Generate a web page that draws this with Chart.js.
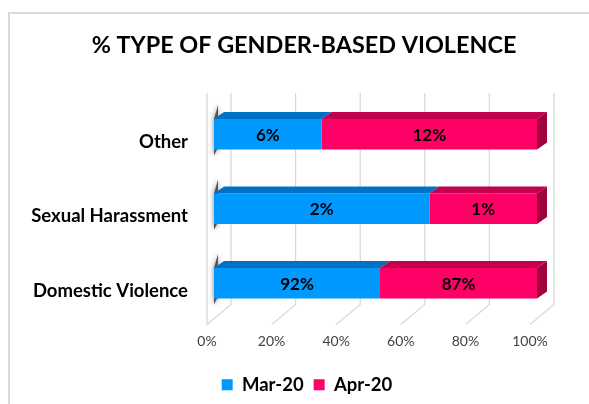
<!DOCTYPE html>
<html>
<head>
<meta charset="utf-8">
<script src="https://cdn.jsdelivr.net/npm/chart.js@4.4.1/dist/chart.umd.min.js"></script>
<style>
  body { margin: 0; background: #fff; }
  #frame {
    position: absolute; left: 8px; top: 12px; width: 590px; height: 400px;
    border-left: 2px solid #d9d9d9; border-top: 2px solid #d9d9d9;
    pointer-events: none;
  }
  #chart { position: absolute; left: 0; top: 0; }
</style>
</head>
<body>
<canvas id="chart" width="589" height="404"></canvas>
<div id="frame"></div>
<script>
const categories = ["Other", "Sexual Harassment", "Domestic Violence"];
const marValues = [6, 2, 92];
const aprValues = [12, 1, 87];
const seriesLabels = ["Mar-20", "Apr-20"];
const tickValues = [0, 20, 40, 60, 80, 100];

const FONT = "Lato";
const DX = 10; // bar depth
const DY = 7;

// each bar is shown as its share of the row (100% stacked)
const marShare = marValues.map((v, i) => (v / (v + aprValues[i])) * 100);
const aprShare = aprValues.map((v, i) => (v / (marValues[i] + v)) * 100);
const rawValues = [marValues, aprValues];

const frontColors = ["#0099ff", "#ff0066"];
const topColors = ["#0072c4", "#c2004e"];
const sideColor = "#a0003e";

const grid3d = {
  id: "grid3d",
  afterLayout(chart) {
    // title and legend sit a bit right of the canvas centre
    chart.titleBlock.left = 19;
    chart.titleBlock.right = 589;
    chart.legend.left = 25;
    chart.legend.right = 589;
  },
  beforeDatasetsDraw(chart) {
    const { ctx, chartArea, scales } = chart;
    const x = scales.x;
    const backBottom = chartArea.bottom - 16;
    const frontBottom = chartArea.bottom + 4;
    const top = chartArea.top - 4;
    ctx.save();
    ctx.strokeStyle = "#d9d9d9";
    ctx.lineWidth = 1.3;
    for (const v of tickValues) {
      const px = x.getPixelForValue(v);
      ctx.beginPath();
      ctx.moveTo(px + 17, top);
      ctx.lineTo(px + 17, backBottom);
      ctx.lineTo(px - 7, frontBottom);
      ctx.stroke();
    }
    // left wall edge
    const x0 = x.getPixelForValue(0) - 7;
    ctx.beginPath();
    ctx.moveTo(x0, top);
    ctx.lineTo(x0, frontBottom);
    ctx.stroke();

    // shadow on the left of each bar
    const bars = chart.getDatasetMeta(0).data;
    for (const bar of bars) {
      const t = bar.y - bar.height / 2;
      const b = bar.y + bar.height / 2;
      ctx.save();
      ctx.shadowColor = "rgba(0,0,0,0.55)";
      ctx.shadowBlur = 5;
      ctx.fillStyle = "#555";
      ctx.beginPath();
      ctx.moveTo(bar.base, t);
      ctx.lineTo(bar.base + 4, t - 14);
      ctx.lineTo(bar.base + 4, b - 2);
      ctx.lineTo(bar.base, b + 6);
      ctx.closePath();
      ctx.fill();
      ctx.restore();
    }
    ctx.restore();
  },
  afterDatasetsDraw(chart) {
    const { ctx } = chart;
    const last = chart.data.datasets.length - 1;
    ctx.save();
    chart.data.datasets.forEach((ds, di) => {
      chart.getDatasetMeta(di).data.forEach((bar, i) => {
        const left = Math.min(bar.base, bar.x);
        const right = Math.max(bar.base, bar.x);
        const t = bar.y - bar.height / 2;
        const b = bar.y + bar.height / 2;
        ctx.fillStyle = topColors[di];
        ctx.beginPath();
        ctx.moveTo(left, t);
        ctx.lineTo(right, t);
        ctx.lineTo(right + DX, t - DY);
        ctx.lineTo(left + DX, t - DY);
        ctx.closePath();
        ctx.fill();
        if (di === last) {
          ctx.fillStyle = sideColor;
          ctx.beginPath();
          ctx.moveTo(right, t);
          ctx.lineTo(right + DX, t - DY);
          ctx.lineTo(right + DX, b - DY);
          ctx.lineTo(right, b);
          ctx.closePath();
          ctx.fill();
        }
        ctx.fillStyle = "#000";
        ctx.font = "bold 17px " + FONT;
        ctx.textAlign = "center";
        ctx.textBaseline = "middle";
        ctx.fillText(rawValues[di][i] + "%", (left + right) / 2, bar.y + 1);
      });
    });
    ctx.restore();
  },
};

new Chart(document.getElementById("chart"), {
  type: "bar",
  data: {
    labels: categories,
    datasets: [
      {
        label: seriesLabels[0],
        data: marShare,
        backgroundColor: frontColors[0],
      },
      {
        label: seriesLabels[1],
        data: aprShare,
        backgroundColor: frontColors[1],
      },
    ],
  },
  options: {
    indexAxis: "y",
    responsive: false,
    animation: false,
    barPercentage: 0.41,
    categoryPercentage: 1,
    layout: { padding: { left: 8, right: 52, top: 0, bottom: 0 } },
    scales: {
      x: {
        stacked: true,
        min: 0,
        max: 100,
        afterBuildTicks: (scale) => {
          scale.ticks = tickValues.map((v) => ({ value: v }));
        },
        afterFit: (scale) => {
          scale.height = 45;
        },
        grid: { display: false },
        border: { display: false },
        ticks: {
          padding: 5,
          labelOffset: -7,
          color: "#404040",
          font: { family: FONT, size: 14 },
          callback: (v) => v + "%",
        },
      },
      y: {
        stacked: true,
        afterFit: (scale) => {
          scale.width = 206;
        },
        grid: { display: false },
        border: { display: false },
        ticks: {
          padding: 18,
          labelOffset: 7.5,
          color: "#000",
          font: { family: FONT, size: 18.5, weight: "bold" },
        },
      },
    },
    plugins: {
      title: {
        display: true,
        text: "% TYPE OF GENDER-BASED VIOLENCE",
        color: "#000",
        font: { family: FONT, size: 23.4, weight: "bold" },
        padding: { top: 31, bottom: 38 },
      },
      legend: {
        position: "bottom",
        labels: {
          boxWidth: 11,
          boxHeight: 11,
          padding: 10,
          color: "#000",
          font: { family: FONT, size: 18.5, weight: "bold" },
        },
      },
      tooltip: { enabled: false },
    },
  },
  plugins: [grid3d],
});
</script>
</body>
</html>
